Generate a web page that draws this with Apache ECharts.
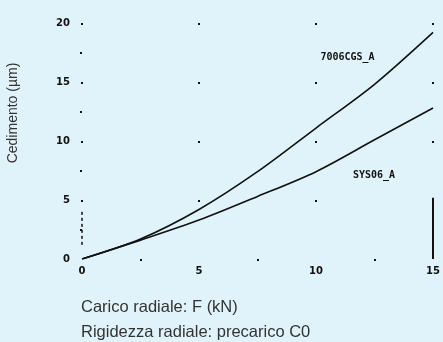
<!DOCTYPE html>
<html><head><meta charset="utf-8">
<script src="https://cdn.jsdelivr.net/npm/echarts@6/dist/echarts.min.js"></script>
<style>html,body{margin:0;padding:0;background:#e0f3fa;}#c{width:443px;height:342px;}</style>
</head><body><div id="c"></div>
<script>
var xValues = [0, 2.5, 5, 7.5, 10, 12.5, 15];
var upperValues = [0, 1.7, 4.2, 7.4, 11.1, 14.8, 19.2];
var lowerValues = [0, 1.6, 3.3, 5.3, 7.4, 10.1, 12.8];
var upperName = '7006CGS_A';
var lowerName = 'SYS06_A';
var yTicks = ['0', '5', '10', '15', '20'];
var xTicks = ['0', '5', '10', '15'];
var yTitle = 'Cedimento (\u00b5m)';
var footer1 = 'Carico radiale: F (kN)';
var footer2 = 'Rigidezza radiale: precarico C0';
var rightBar = [[15, 0], [15, 5.2]];
var leftBar = [[0, 1.2], [0, 4.2]];

function build(vals, labelIdx, labelText, offset) {
  return xValues.map(function (x, i) {
    var d = { value: [x, vals[i]] };
    if (i === labelIdx) {
      d.label = { show: true, formatter: labelText, position: 'inside', offset: offset,
        fontFamily: 'DejaVu Sans Mono', fontSize: 10, fontWeight: 'bold', color: '#111' };
    }
    return d;
  });
}

var chart = echarts.init(document.getElementById('c'), null, { renderer: 'canvas' });
var tickLabel = { fontFamily: 'DejaVu Sans', fontSize: 10, fontWeight: 'bold', color: '#111' };
chart.setOption({
  backgroundColor: '#e0f3fa',
  animation: false,
  grid: { left: 82, right: 1, top: 23, bottom: 83 },
  xAxis: {
    type: 'value', min: 0, max: 15, interval: 5,
    axisLine: { show: false },
    axisTick: { show: false },
    minorTick: { show: true, splitNumber: 2, length: 2, lineStyle: { color: '#111', width: 2 } },
    axisLabel: Object.assign({ margin: 7, formatter: function (v) { return xTicks[xTicks.indexOf(String(v))] || ''; } }, tickLabel),
    splitLine: { show: true, lineStyle: { color: '#111', width: 2, type: [2, 57] } }
  },
  yAxis: {
    type: 'value', min: 0, max: 20, interval: 5,
    axisLine: { show: false },
    axisTick: { show: false },
    minorTick: { show: true, splitNumber: 2, length: 2, lineStyle: { color: '#111', width: 2 } },
    axisLabel: Object.assign({ margin: 12, formatter: function (v) { return yTicks[yTicks.indexOf(String(v))] || ''; } }, tickLabel),
    splitLine: { show: false }
  },
  series: [
    { type: 'line', smooth: 0.3, symbol: 'circle', symbolSize: 0, silent: true,
      lineStyle: { color: '#111', width: 1.6 },
      data: build(upperValues, 5, upperName, [-27, -27]) },
    { type: 'line', smooth: 0.3, symbol: 'circle', symbolSize: 0, silent: true,
      lineStyle: { color: '#111', width: 1.6 },
      data: build(lowerValues, 4, lowerName, [58, 4]),
      markLine: { silent: true, symbol: 'none', label: { show: false },
        data: [
          [{ coord: rightBar[0], lineStyle: { color: '#111', width: 2, type: 'solid' } }, { coord: rightBar[1] }],
          [{ coord: leftBar[0], lineStyle: { color: '#111', width: 1.5, type: [3, 3] } }, { coord: leftBar[1] }]
        ] } }
  ],
  graphic: [
    { type: 'text', x: 13, y: 113, rotation: Math.PI / 2,
      style: { text: yTitle, fontFamily: 'Liberation Sans', fontSize: 14, fill: '#333', align: 'center', verticalAlign: 'middle' } },
    { type: 'text', x: 81, y: 307,
      style: { text: footer1, fontFamily: 'Liberation Sans', fontSize: 16.5, fill: '#333', verticalAlign: 'middle' } },
    { type: 'text', x: 81, y: 332,
      style: { text: footer2, fontFamily: 'Liberation Sans', fontSize: 16.5, fill: '#333', verticalAlign: 'middle' } }
  ]
});
</script></body></html>
